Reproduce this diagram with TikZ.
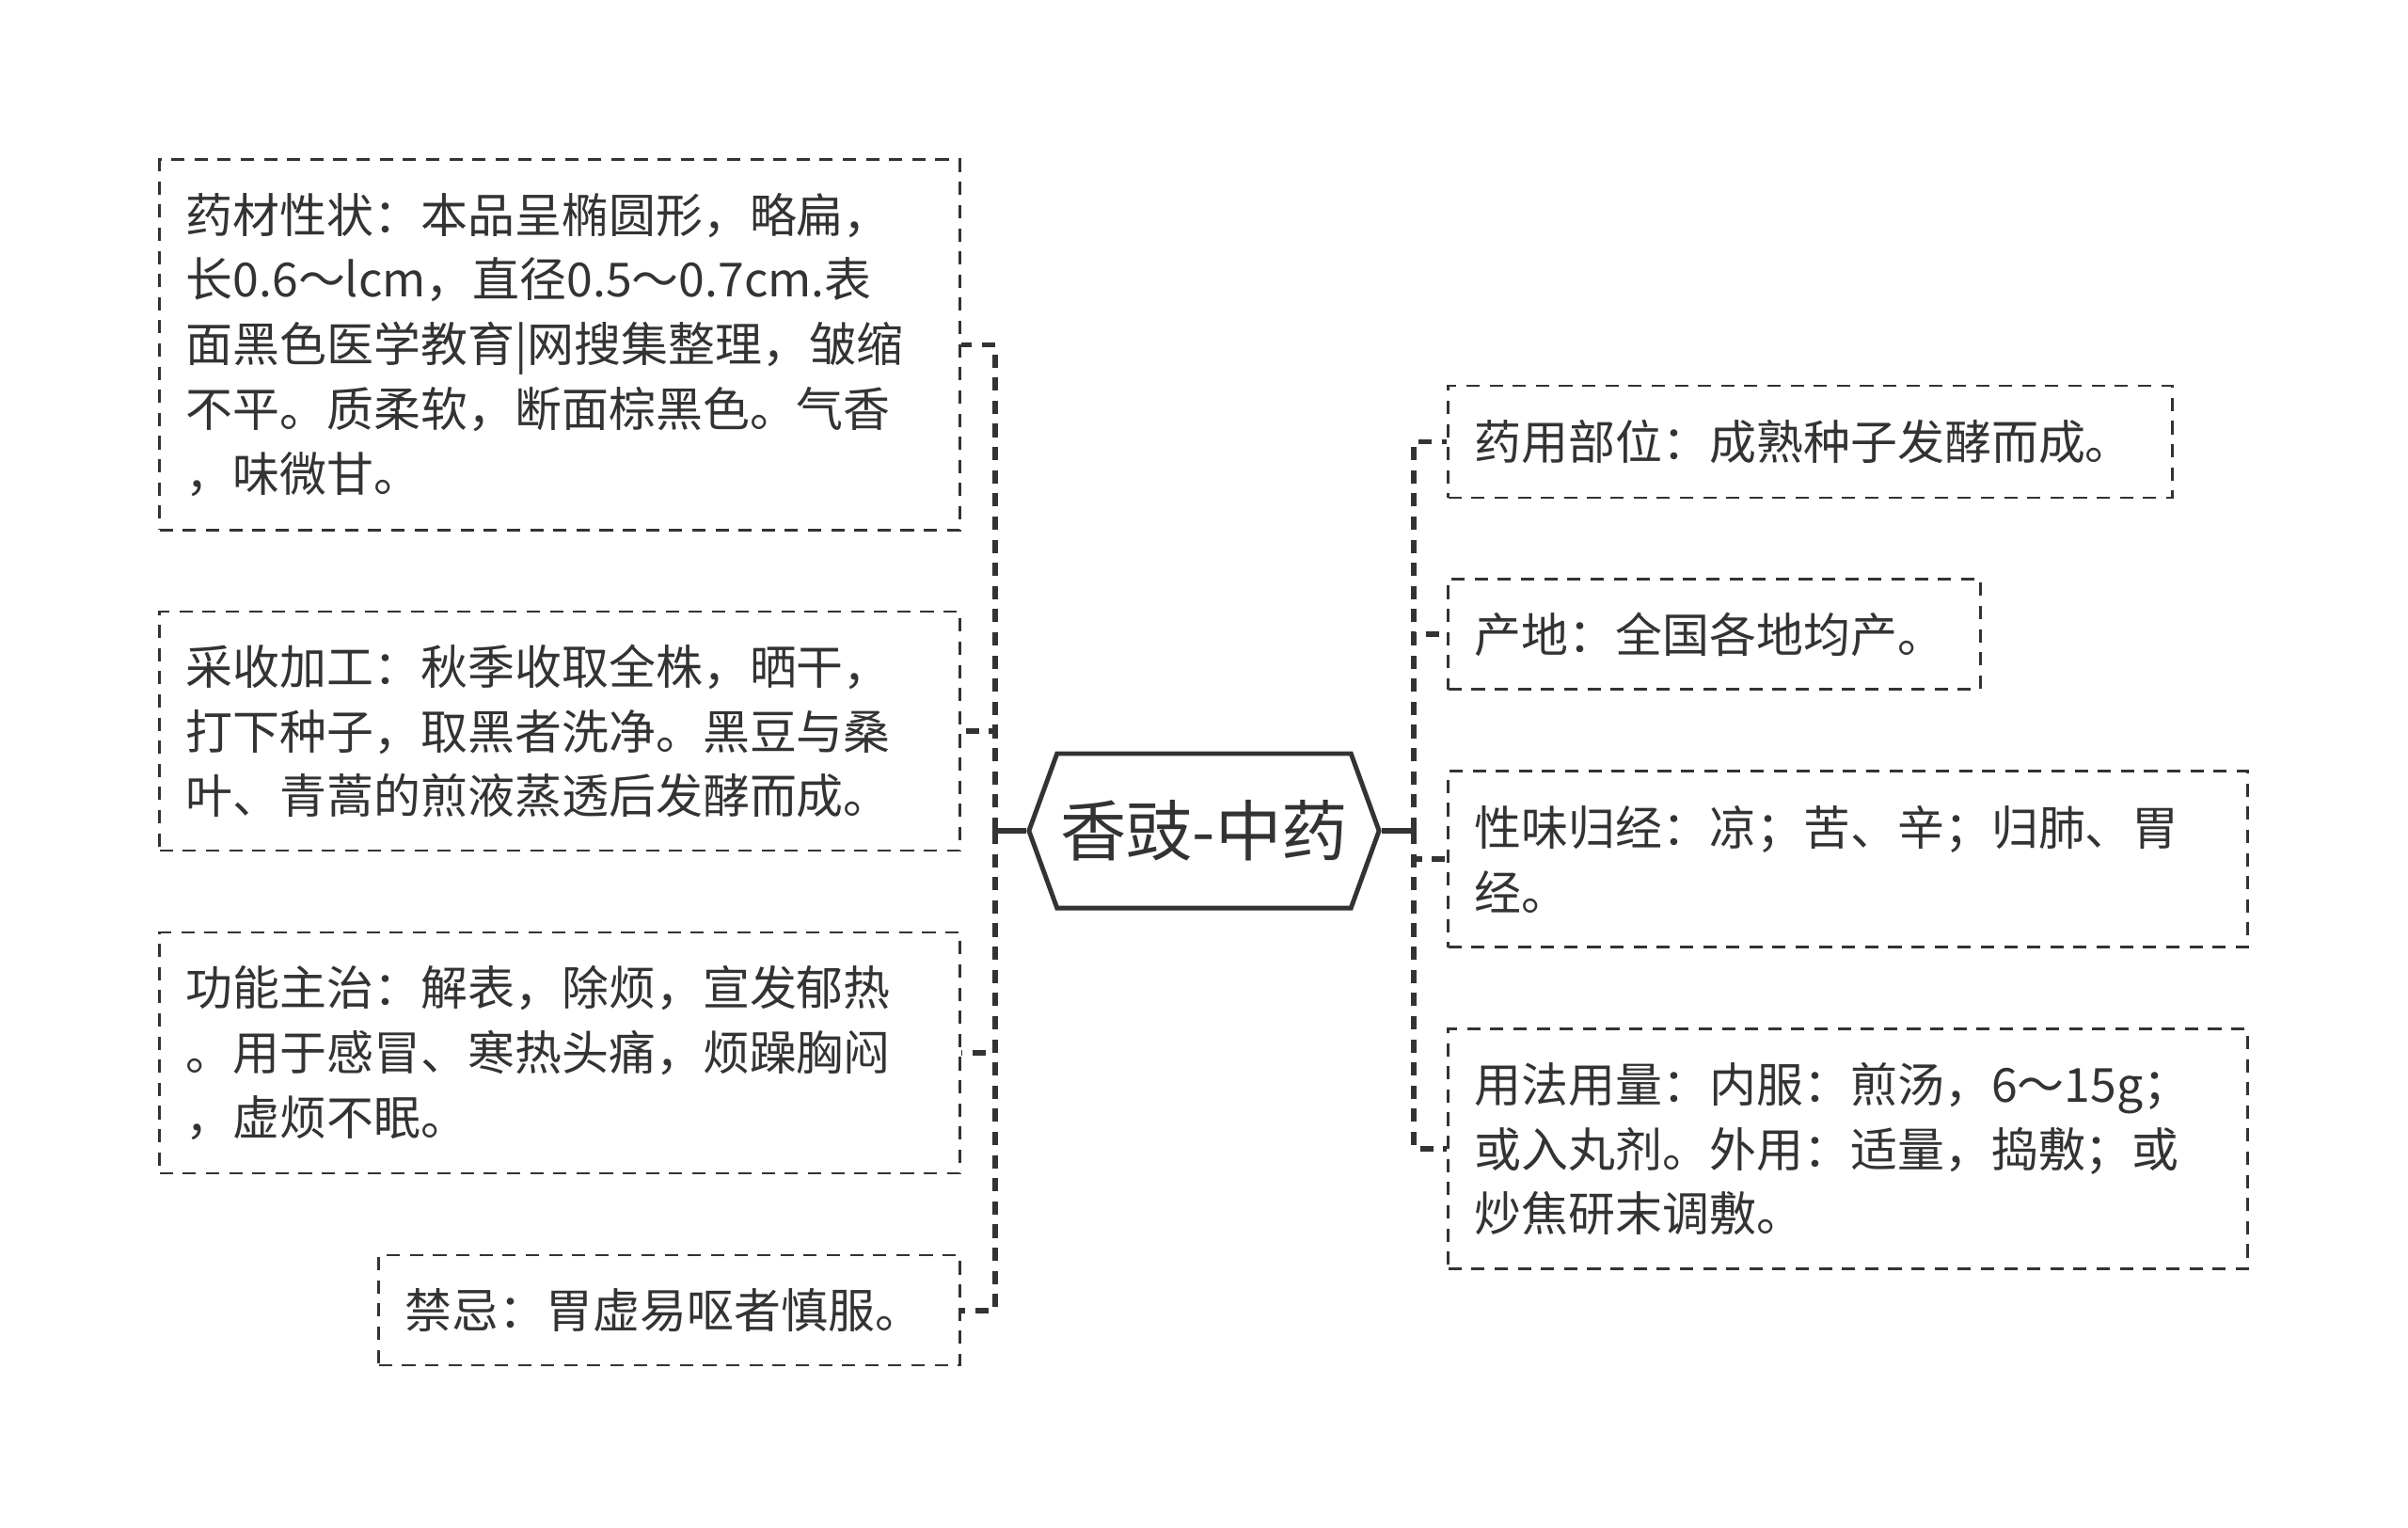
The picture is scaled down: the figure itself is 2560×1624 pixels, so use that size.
\documentclass[tikz,border=0pt]{standalone}
\usepackage{fontspec}
\setmainfont{Noto Sans CJK SC}
\usetikzlibrary{shapes.symbols}
\definecolor{ink}{HTML}{333333}
\newcommand{\leaffont}{\fontsize{14.2}{19.6}\selectfont}
\tikzset{
  leaf/.style={draw=ink, dash pattern=on 4pt off 3pt, line width=0.8pt,
    align=left, inner xsep=0.28cm, inner ysep=0pt, text=ink, font=\leaffont},
  hub/.style={draw=ink, line width=1.4pt, signal, signal to=east and west,
    signal pointer angle=140, minimum width=3.72cm, minimum height=1.64cm,
    inner sep=0pt, text=ink, font=\fontsize{20}{24}\selectfont},
  link/.style={draw=ink, line width=1.7pt, dash pattern=on 4pt off 3pt},
  stub/.style={draw=ink, line width=1.5pt}
}
\begin{document}
\begin{tikzpicture}[x=0.01cm, y=-0.01cm]
  \useasboundingbox (0,0) rectangle (2560,1624);

  % centre
  \node[hub] (c) at (1280,883) {香豉-中药};
  \coordinate (lj) at (1058,883);
  \coordinate (rj) at (1503,883);

  % left side
  \node[leaf, text width=7.94cm, minimum height=3.93cm] (b1) at (595,366.5)
    {药材性状：本品呈椭圆形，略扁，\\长0.6～lcm，直径0.5～0.7cm.表\\面黑色医学教育|网搜集整理，皱缩\\不平。质柔软，断面棕黑色。气香\\，味微甘。};
  \node[leaf, text width=7.94cm, minimum height=2.54cm] (b2) at (595,777)
    {采收加工：秋季收取全株，晒干，\\打下种子，取黑者洗净。黑豆与桑\\叶、青蒿的煎液蒸透后发酵而成。};
  \node[leaf, text width=7.94cm, minimum height=2.56cm] (b3) at (595,1119)
    {功能主治：解表，除烦，宣发郁热\\。用于感冒、寒热头痛，烦躁胸闷\\，虚烦不眠。};
  \node[leaf, text width=5.61cm, minimum height=1.17cm] (b4) at (711.5,1392.5)
    {禁忌：胃虚易呕者慎服。};

  % right side
  \node[leaf, text width=7.13cm, minimum height=1.19cm] (r1) at (1924.5,469.5)
    {药用部位：成熟种子发酵而成。};
  \node[leaf, text width=5.09cm, minimum height=1.175cm] (r2) at (1822.5,674)
    {产地：全国各地均产。};
  \node[leaf, text width=7.93cm, minimum height=1.87cm] (r3) at (1964.5,913)
    {性味归经：凉；苦、辛；归肺、胃\\经。};
  \node[leaf, text width=7.93cm, minimum height=2.55cm] (r4) at (1964.5,1221)
    {用法用量：内服：煎汤，6～15g；\\或入丸剂。外用：适量，捣敷；或\\炒焦研末调敷。};

  % connectors
  \draw[stub] (c.west) -- (lj);
  \draw[stub] (c.east) -- (rj);
  \foreach \b in {b1,b2,b3,b4}
    \draw[link] (lj) |- (\b.east);
  \foreach \r in {r1,r2,r3,r4}
    \draw[link] (rj) |- (\r.west);
\end{tikzpicture}
\end{document}
